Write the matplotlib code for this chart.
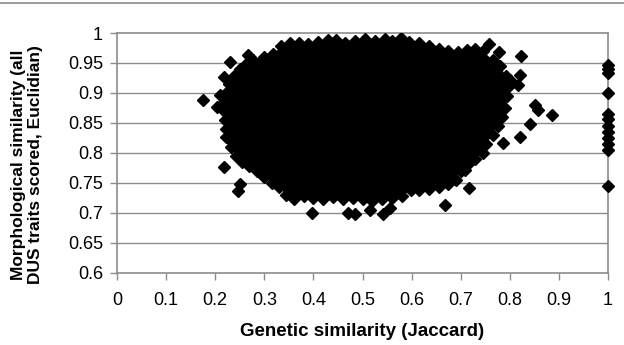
import matplotlib
matplotlib.use('Agg')
import matplotlib.pyplot as plt
from matplotlib.lines import Line2D

plt.rcParams['font.family'] = ['Liberation Sans', 'DejaVu Sans']

# marker centres along the edge of the dense cloud of pairwise comparisons
# (the inside of the cloud is solid black)
cloud_x = [0.300, 0.318, 0.335, 0.352, 0.370, 0.390, 0.410, 0.430, 0.447, 0.465,
           0.485, 0.505, 0.525, 0.545, 0.560, 0.578, 0.595, 0.615, 0.635, 0.655,
           0.675, 0.695, 0.712, 0.730, 0.745,
           0.765, 0.780, 0.792, 0.796, 0.795, 0.790, 0.785, 0.775, 0.765, 0.752,
           0.745, 0.730, 0.715, 0.700, 0.690, 0.675,
           0.655, 0.635, 0.615, 0.598, 0.580, 0.560, 0.540, 0.520, 0.500, 0.480,
           0.460, 0.440, 0.420, 0.400, 0.380, 0.360, 0.345, 0.330,
           0.315, 0.300, 0.285, 0.268, 0.255, 0.243, 0.232, 0.226, 0.222, 0.219,
           0.217, 0.218, 0.222, 0.228, 0.238, 0.250, 0.262, 0.278]
cloud_y = [0.960, 0.965, 0.978, 0.983, 0.984, 0.981, 0.985, 0.988, 0.988, 0.984,
           0.987, 0.990, 0.986, 0.990, 0.986, 0.991, 0.985, 0.983, 0.978, 0.974,
           0.970, 0.968, 0.972, 0.974, 0.970,
           0.955, 0.945, 0.928, 0.910, 0.895, 0.875, 0.860, 0.845, 0.830, 0.815,
           0.800, 0.790, 0.782, 0.770, 0.755, 0.748,
           0.742, 0.740, 0.738, 0.737, 0.728, 0.725, 0.723, 0.720, 0.722, 0.725,
           0.722, 0.726, 0.722, 0.724, 0.727, 0.723, 0.730, 0.742,
           0.750, 0.760, 0.770, 0.778, 0.785, 0.795, 0.810, 0.825, 0.840, 0.855,
           0.870, 0.885, 0.900, 0.915, 0.928, 0.940, 0.948, 0.955]

# scattered points outside the dense cloud
out_x = [0.175, 0.217, 0.230, 0.267, 0.210, 0.203, 0.217, 0.247, 0.250, 0.397,
         0.471, 0.485, 0.515, 0.542, 0.556, 0.668, 0.716, 0.709, 0.758, 0.779,
         0.822, 0.821, 0.817, 0.800, 0.851, 0.858, 0.885, 0.841, 0.821, 0.787,
         0.783, 0.223]
out_y = [0.888, 0.927, 0.952, 0.963, 0.897, 0.877, 0.777, 0.736, 0.747, 0.700,
         0.700, 0.697, 0.705, 0.697, 0.708, 0.713, 0.741, 0.772, 0.982, 0.969,
         0.961, 0.930, 0.913, 0.922, 0.880, 0.872, 0.863, 0.848, 0.827, 0.816,
         0.874, 0.827]

# identical genotypes (Jaccard = 1)
ident_x = [1.0] * 12
ident_y = [0.947, 0.940, 0.933, 0.900, 0.865, 0.857, 0.845, 0.835, 0.825, 0.815,
           0.805, 0.745]

x_ticks = [0, 0.1, 0.2, 0.3, 0.4, 0.5, 0.6, 0.7, 0.8, 0.9, 1]
x_labels = ['0', '0.1', '0.2', '0.3', '0.4', '0.5', '0.6', '0.7', '0.8', '0.9', '1']
y_ticks = [0.6, 0.65, 0.7, 0.75, 0.8, 0.85, 0.9, 0.95, 1]
y_labels = ['0.6', '0.65', '0.7', '0.75', '0.8', '0.85', '0.9', '0.95', '1']

fig = plt.figure(figsize=(6.24, 3.45), dpi=100)
ax = fig.add_axes([117 / 624, 1 - 272.5 / 345, 491 / 624, 239.5 / 345])

grey = '#8c8c8c'
ms = 6.5
for yv in y_ticks[1:-1]:
    ax.axhline(yv, color=grey, linewidth=1.0, zorder=1)

ax.fill(cloud_x, cloud_y, color='black', zorder=3, linewidth=0)
ax.plot(cloud_x, cloud_y, linestyle='none', marker='D', markersize=ms, color='black', zorder=3)
ax.plot(out_x, out_y, linestyle='none', marker='D', markersize=ms, color='black', zorder=4)
ax.plot(ident_x, ident_y, linestyle='none', marker='D', markersize=ms, color='black',
        zorder=4, clip_on=False)

ax.set_xlim(0, 1)
ax.set_ylim(0.6, 1)
ax.set_xticks(x_ticks)
ax.set_xticklabels(x_labels, fontsize=13)
ax.set_yticks(y_ticks)
ax.set_yticklabels(y_labels, fontsize=13)
ax.tick_params(direction='out', length=5, color=grey, width=1, pad=5)
ax.tick_params(axis='x', pad=9)
for s in ax.spines.values():
    s.set_color(grey)
    s.set_linewidth(1.2)

ax.set_xlabel('Genetic similarity (Jaccard)', fontsize=13.5, fontweight='bold', labelpad=10)
ax.set_ylabel('Morphological similarity (all\nDUS traits scored, Euclidian)',
              fontsize=12.5, fontweight='bold', labelpad=10)
ax.yaxis.set_label_coords(-0.15, 0.45)

fig.add_artist(Line2D([0, 1], [1 - 3 / 345, 1 - 3 / 345], color=grey, linewidth=1.2))

fig.savefig('out.png', dpi=100)
